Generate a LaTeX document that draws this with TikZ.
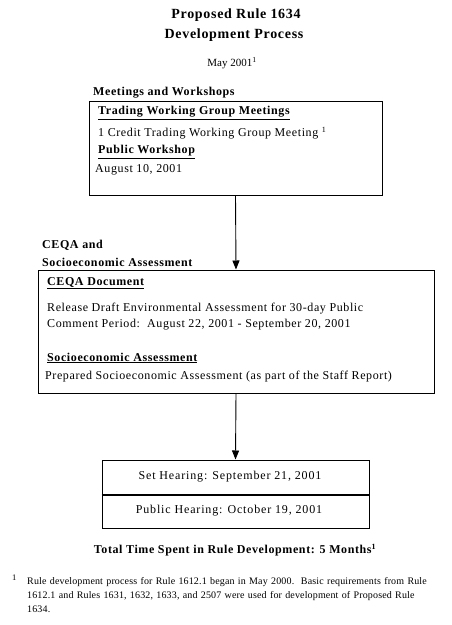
\documentclass[tikz,border=0pt]{standalone}
\usepackage{fontspec}
\setmainfont{Liberation Serif}
\newfontfamily\regf[LetterSpace=5]{Liberation Serif}
\newfontfamily\boxf[LetterSpace=7]{Liberation Serif}
\newfontfamily\fnf[LetterSpace=1.5]{Liberation Serif}
\usetikzlibrary{arrows.meta}
\begin{document}
\begin{tikzpicture}[x=1pt,y=-1pt,
  txt/.style={inner sep=0pt,anchor=west,font=\regf\fontsize{12}{14}\selectfont},
  hd/.style={inner sep=0pt,anchor=west,font=\regf\fontsize{12}{14}\selectfont\bfseries},
  ttl/.style={inner sep=0pt,font=\regf\fontsize{14}{16}\selectfont\bfseries},
  box/.style={draw,line width=1pt,inner sep=0pt},
  hbox/.style={box,minimum width=267pt,minimum height=34pt},
  htxt/.style={inner sep=0pt,font=\boxf\fontsize{12}{14}\selectfont},
  arr/.style={line width=0.9pt,-{Triangle[width=7pt,length=9pt]}}]
\useasboundingbox (0,0) rectangle (452,625);
% titles
\node[ttl] (t1) at (236,15) {Proposed Rule 1634};
\node[ttl] (t2) at (234,35) {Development Process};
\node[inner sep=0pt,font=\fontsize{11}{13}\selectfont] (may) at (232,63) {May 2001\textsuperscript{1}};
% box 1
\node[hd] (mw) at (93,93) {Meetings and Workshops};
\node[box,minimum width=293pt,minimum height=94pt] (b1) at (235.5,148) {};
\node[hd] (twg) at (98,113) {\underline{Trading Working Group Meetings}};
\node[txt] (ctw) at (98,133) {1 Credit Trading Working Group Meeting \textsuperscript{1}};
\node[hd] (pw) at (98,152) {\underline{Public Workshop}};
\node[txt] (aug) at (95,170) {August 10, 2001};
% box 2
\node[hd] (ceq1) at (42,245) {CEQA and};
\node[hd] (ceq2) at (42,262) {Socioeconomic Assessment};
\node[box,minimum width=396pt,minimum height=123pt] (b2) at (236,331.5) {};
\node[hd] (cd) at (47,283) {\underline{CEQA Document}};
\node[txt] (r1) at (47,309) {Release Draft Environmental Assessment for 30-day Public};
\node[txt] (r2) at (47,325) {Comment Period:\ \ August 22, 2001 - September 20, 2001};
\node[hd] (sa) at (47,358) {\underline{Socioeconomic Assessment}};
\node[txt] (ps) at (45,377) {Prepared Socioeconomic Assessment (as part of the Staff Report)};
% box 3
\node[hbox] (b3a) at (235.5,477) {};
\node[hbox] (b3b) at (235.5,511) {};
\node[htxt] (sh) at (230,477) {Set Hearing: September 21, 2001};
\node[htxt] (ph) at (229,511) {Public Hearing: October 19, 2001};
\draw[line width=2pt] (b3a.south west) -- (b3a.south east);
% arrows
\draw[arr] (b1.south) -- (b2.north);
\draw[arr] (b2.south) -- (b3a.north);
% total
\node[inner sep=0pt,font=\regf\fontsize{12}{14}\selectfont\bfseries] (tot) at (235,550) {Total Time Spent in Rule Development: 5 Months\textsuperscript{1}};
% footnote
\node[inner sep=0pt,anchor=west,font=\fontsize{8.5}{9}\selectfont] (fn) at (12,578) {1};
\node[inner sep=0pt,anchor=north west,align=left,text width=420pt,font=\fnf\fontsize{10}{14}\selectfont] (fnt) at (27,577) {Rule development process for Rule 1612.1 began in May 2000.\ \ Basic requirements from Rule\\1612.1 and Rules 1631, 1632, 1633, and 2507 were used for development of Proposed Rule\\1634.};
\end{tikzpicture}
\end{document}
